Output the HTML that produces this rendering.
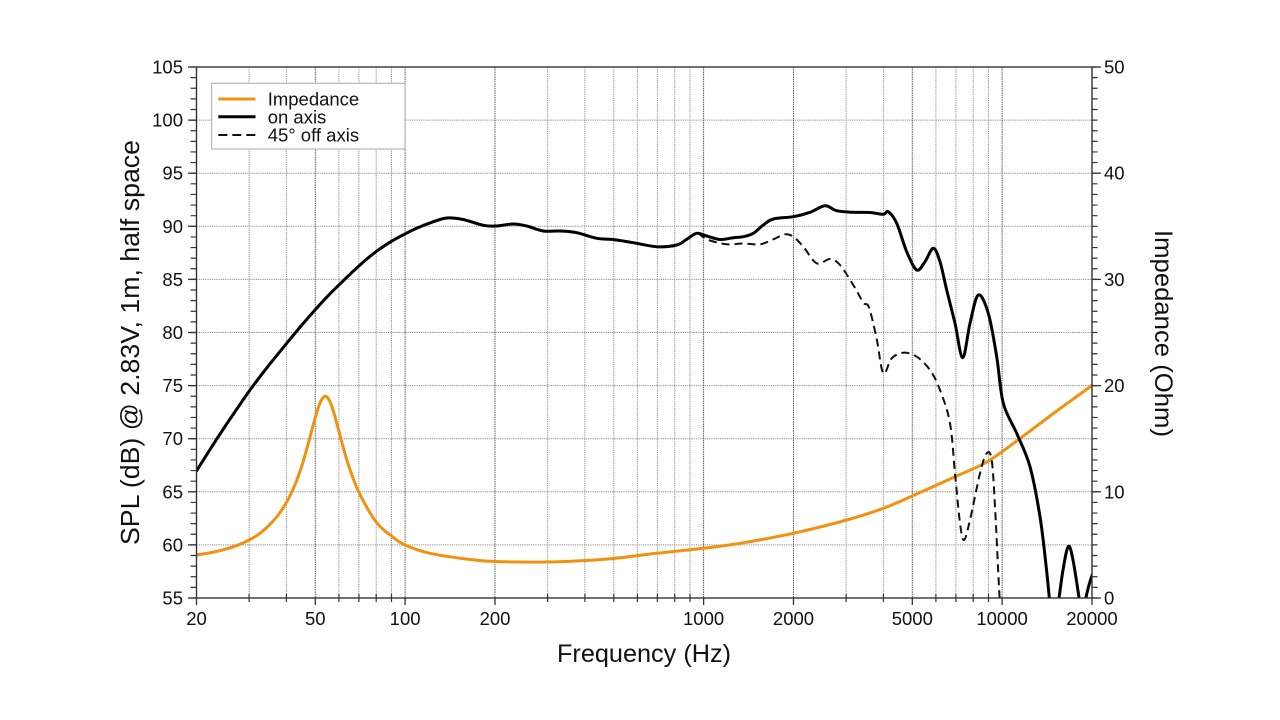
<!DOCTYPE html>
<html>
<head>
<meta charset="utf-8">
<style>
  html, body { margin: 0; padding: 0; background: #ffffff; }
  svg { display: block; }
  text { font-family: "Liberation Sans", Arial, Helvetica, sans-serif; fill: #111; }
</style>
</head>
<body>
<svg width="1280" height="720" viewBox="0 0 1280 720" xmlns="http://www.w3.org/2000/svg">
  <rect x="0" y="0" width="1280" height="720" fill="#ffffff"/>
  <defs>
    <clipPath id="plot">
      <rect x="196.5" y="67" width="895.5" height="531"/>
    </clipPath>
  </defs>

  <!-- horizontal grid -->
  <g stroke="#8c8c8c" stroke-width="1" stroke-dasharray="1.2 1">
    <line x1="196.5" y1="120.1" x2="1092" y2="120.1"/>
    <line x1="196.5" y1="173.2" x2="1092" y2="173.2"/>
    <line x1="196.5" y1="226.3" x2="1092" y2="226.3"/>
    <line x1="196.5" y1="279.4" x2="1092" y2="279.4"/>
    <line x1="196.5" y1="332.5" x2="1092" y2="332.5"/>
    <line x1="196.5" y1="385.6" x2="1092" y2="385.6"/>
    <line x1="196.5" y1="438.7" x2="1092" y2="438.7"/>
    <line x1="196.5" y1="491.8" x2="1092" y2="491.8"/>
    <line x1="196.5" y1="544.9" x2="1092" y2="544.9"/>
  </g>
  <!-- vertical minor grid -->
  <g stroke="#8c8c8c" stroke-width="1" stroke-dasharray="1.2 1">
    <line x1="249.1" y1="67" x2="249.1" y2="598"/>
    <line x1="286.4" y1="67" x2="286.4" y2="598"/>
    <line x1="338.9" y1="67" x2="338.9" y2="598"/>
    <line x1="358.9" y1="67" x2="358.9" y2="598"/>
    <line x1="376.2" y1="67" x2="376.2" y2="598"/>
    <line x1="391.5" y1="67" x2="391.5" y2="598"/>
    <line x1="547.6" y1="67" x2="547.6" y2="598"/>
    <line x1="584.9" y1="67" x2="584.9" y2="598"/>
    <line x1="613.8" y1="67" x2="613.8" y2="598"/>
    <line x1="637.4" y1="67" x2="637.4" y2="598"/>
    <line x1="657.4" y1="67" x2="657.4" y2="598"/>
    <line x1="674.7" y1="67" x2="674.7" y2="598"/>
    <line x1="690" y1="67" x2="690" y2="598"/>
    <line x1="846.1" y1="67" x2="846.1" y2="598"/>
    <line x1="883.4" y1="67" x2="883.4" y2="598"/>
    <line x1="935.9" y1="67" x2="935.9" y2="598"/>
    <line x1="955.9" y1="67" x2="955.9" y2="598"/>
    <line x1="973.2" y1="67" x2="973.2" y2="598"/>
    <line x1="988.5" y1="67" x2="988.5" y2="598"/>
  </g>
  <!-- vertical labelled grid (darker) -->
  <g stroke="#5e5e5e" stroke-width="1" stroke-dasharray="1.5 0.8">
    <line x1="315.3" y1="67" x2="315.3" y2="598"/>
    <line x1="405.1" y1="67" x2="405.1" y2="598"/>
    <line x1="495" y1="67" x2="495" y2="598"/>
    <line x1="703.6" y1="67" x2="703.6" y2="598"/>
    <line x1="793.5" y1="67" x2="793.5" y2="598"/>
    <line x1="912.3" y1="67" x2="912.3" y2="598"/>
    <line x1="1002.1" y1="67" x2="1002.1" y2="598"/>
  </g>

  <!-- curves -->
  <g clip-path="url(#plot)" fill="none" stroke-linejoin="round" stroke-linecap="round">
    <polyline class="s" stroke="#F0920F" stroke-width="3" points="196.5,555 211.8,552.5 225.4,549.2 237.8,545.2 249.1,540 259.4,533.8 269,525.3 278,515.4 286.4,502.4 294.2,486.6 301.6,466.6 308.6,442.3 315.3,417.4 320.4,402.1 325.3,396.3 330,401.6 334.5,414.9 338.9,431.2 344.2,450.9 349.3,467.6 358.9,492.3 376.2,522 391.5,536 405.1,545 430,553.3 470,559.5 495,561.5 546.7,562 585,560.5 613.3,558.5 656.7,553.3 703.3,548.3 740,543.3 793.3,533.3 846.7,520 883.3,508.3 913.3,495.5 956.7,476 986.7,462 1018,440 1056.7,411 1093,384.8"/>
    <polyline class="s" stroke="#111" stroke-width="2" stroke-linecap="butt" stroke-dasharray="8 5" points="686.7,239.3 696.7,233.3 703,237 710,240.5 726.7,244.3 743.3,243.5 760,244.3 773.3,239.3 785,234.3 793.3,236.7 803.3,246.7 816.7,263.3 830,259 840,265 853.3,285 863.3,302.5 869,307.5 876.7,339 883.3,373.3 891.7,358.3 903.3,352.7 916.7,356.7 930,370 940,390 950,423.3 955,473.3 960,523.3 964,540 970,520 980,473.3 986.7,453.3 991.7,460 995,506.7 998.3,573.3 1000,605"/>
    <polyline class="s" stroke="#000" stroke-width="3" points="196.5,471 210,449.5 223,429.5 236.5,409.5 250,390 268,366.3 286.7,343.3 301,326 315,310 329,294.8 343,281 352,272.4 360,265 368,258 376,251.7 390,242.2 403,235 416,228.5 430,222.9 446.7,218 463,219.5 483.3,225.3 496.7,226 513.3,224 526.7,226 543.3,231 560,231 576.7,232.7 596.7,238.3 613.3,239.5 633.3,242.7 656.7,246.7 676.7,245 686.7,239.3 696.7,233.3 706.7,236 720,239.5 733.3,237.7 743.3,236.7 753.3,233.3 763.3,225 773.3,219 793.3,216.7 810,212.3 825,205.7 836.7,210.7 853.3,212.3 870,212.5 883.3,214.3 888.3,211.7 896.7,223.3 906.7,251.7 916.7,270 925,261.7 933.3,248.3 940,261.7 946.7,290 955,323.3 962.7,357.7 970,323.3 978.3,295 988.3,313.3 996.7,356.7 1003.3,403.3 1016.7,433.3 1030,466.7 1040,516.7 1046,565 1050,605"/>
    <polyline class="s" stroke="#000" stroke-width="3" points="1058,606 1063,570 1068.3,546.5 1073,560 1080,604"/>
    <polyline class="s" stroke="#000" stroke-width="3" points="1084,606 1089,585 1094,570"/>
  </g>

  <!-- frame -->
  <rect x="196.5" y="67" width="895.5" height="531" fill="none" stroke="#333" stroke-width="1.4"/>

  <!-- left minor ticks (every 1 dB) -->
  <line x1="193.3" y1="598.6" x2="193.3" y2="66" stroke="#333" stroke-width="5.5" stroke-dasharray="1.2 9.42"/>
  <!-- right minor ticks (every 1 ohm) -->
  <line x1="1094.8" y1="598.6" x2="1094.8" y2="66" stroke="#333" stroke-width="5.5" stroke-dasharray="1.2 9.42"/>

  <!-- major ticks -->
  <g stroke="#333" stroke-width="1.3">
    <line x1="188" y1="67" x2="196.5" y2="67"/>
    <line x1="188" y1="120.1" x2="196.5" y2="120.1"/>
    <line x1="188" y1="173.2" x2="196.5" y2="173.2"/>
    <line x1="188" y1="226.3" x2="196.5" y2="226.3"/>
    <line x1="188" y1="279.4" x2="196.5" y2="279.4"/>
    <line x1="188" y1="332.5" x2="196.5" y2="332.5"/>
    <line x1="188" y1="385.6" x2="196.5" y2="385.6"/>
    <line x1="188" y1="438.7" x2="196.5" y2="438.7"/>
    <line x1="188" y1="491.8" x2="196.5" y2="491.8"/>
    <line x1="188" y1="544.9" x2="196.5" y2="544.9"/>
    <line x1="188" y1="598" x2="196.5" y2="598"/>

    <line x1="1092" y1="67" x2="1101" y2="67"/>
    <line x1="1092" y1="173.2" x2="1101" y2="173.2"/>
    <line x1="1092" y1="279.4" x2="1101" y2="279.4"/>
    <line x1="1092" y1="385.6" x2="1101" y2="385.6"/>
    <line x1="1092" y1="491.8" x2="1101" y2="491.8"/>
    <line x1="1092" y1="598" x2="1101" y2="598"/>

    <!-- bottom labelled ticks -->
    <line x1="196.5" y1="598" x2="196.5" y2="605"/>
    <line x1="315.3" y1="598" x2="315.3" y2="605"/>
    <line x1="405.1" y1="598" x2="405.1" y2="605"/>
    <line x1="495" y1="598" x2="495" y2="605"/>
    <line x1="703.6" y1="598" x2="703.6" y2="605"/>
    <line x1="793.5" y1="598" x2="793.5" y2="605"/>
    <line x1="912.3" y1="598" x2="912.3" y2="605"/>
    <line x1="1002.1" y1="598" x2="1002.1" y2="605"/>
    <line x1="1092" y1="598" x2="1092" y2="605"/>
  </g>
  <!-- bottom minor ticks -->
  <g stroke="#333" stroke-width="1.2">
    <line x1="249.1" y1="594" x2="249.1" y2="602"/>
    <line x1="286.4" y1="594" x2="286.4" y2="602"/>
    <line x1="338.9" y1="594" x2="338.9" y2="602"/>
    <line x1="358.9" y1="594" x2="358.9" y2="602"/>
    <line x1="376.2" y1="594" x2="376.2" y2="602"/>
    <line x1="391.5" y1="594" x2="391.5" y2="602"/>
    <line x1="547.6" y1="594" x2="547.6" y2="602"/>
    <line x1="584.9" y1="594" x2="584.9" y2="602"/>
    <line x1="613.8" y1="594" x2="613.8" y2="602"/>
    <line x1="637.4" y1="594" x2="637.4" y2="602"/>
    <line x1="657.4" y1="594" x2="657.4" y2="602"/>
    <line x1="674.7" y1="594" x2="674.7" y2="602"/>
    <line x1="690" y1="594" x2="690" y2="602"/>
    <line x1="846.1" y1="594" x2="846.1" y2="602"/>
    <line x1="883.4" y1="594" x2="883.4" y2="602"/>
    <line x1="935.9" y1="594" x2="935.9" y2="602"/>
    <line x1="955.9" y1="594" x2="955.9" y2="602"/>
    <line x1="973.2" y1="594" x2="973.2" y2="602"/>
    <line x1="988.5" y1="594" x2="988.5" y2="602"/>
  </g>

  <!-- left tick labels -->
  <g font-size="18.5" text-anchor="end">
    <text x="183" y="73.5">105</text>
    <text x="183" y="126.6">100</text>
    <text x="183" y="179.7">95</text>
    <text x="183" y="232.8">90</text>
    <text x="183" y="285.9">85</text>
    <text x="183" y="339">80</text>
    <text x="183" y="392.1">75</text>
    <text x="183" y="445.2">70</text>
    <text x="183" y="498.3">65</text>
    <text x="183" y="551.4">60</text>
    <text x="183" y="604.5">55</text>
  </g>
  <!-- right tick labels -->
  <g font-size="18.5" text-anchor="start">
    <text x="1104" y="73.5">50</text>
    <text x="1104" y="179.7">40</text>
    <text x="1104" y="285.9">30</text>
    <text x="1104" y="392.1">20</text>
    <text x="1104" y="498.3">10</text>
    <text x="1104" y="604.5">0</text>
  </g>
  <!-- bottom tick labels -->
  <g font-size="18.5" text-anchor="middle">
    <text x="196.5" y="625">20</text>
    <text x="315.3" y="625">50</text>
    <text x="405.1" y="625">100</text>
    <text x="495" y="625">200</text>
    <text x="703.6" y="625">1000</text>
    <text x="793.5" y="625">2000</text>
    <text x="912.3" y="625">5000</text>
    <text x="1002.1" y="625">10000</text>
    <text x="1092" y="625">20000</text>
  </g>

  <!-- axis titles -->
  <text x="644" y="662" font-size="25" text-anchor="middle" textLength="174" lengthAdjust="spacingAndGlyphs">Frequency (Hz)</text>
  <text transform="translate(139,342.5) rotate(-90)" font-size="25.5" text-anchor="middle" textLength="405" lengthAdjust="spacingAndGlyphs">SPL (dB) @ 2.83V, 1m, half space</text>
  <text transform="translate(1155,333.5) rotate(90)" font-size="25" text-anchor="middle" textLength="207" lengthAdjust="spacingAndGlyphs">Impedance (Ohm)</text>

  <!-- legend -->
  <rect x="211.7" y="83.3" width="193.3" height="65.7" fill="#ffffff" stroke="#a8a8a8" stroke-width="1"/>
  <line x1="218.3" y1="99" x2="255.5" y2="99" stroke="#F0920F" stroke-width="3"/>
  <line x1="218.3" y1="116.7" x2="255.5" y2="116.7" stroke="#000" stroke-width="3"/>
  <line x1="218.3" y1="135" x2="255.5" y2="135" stroke="#111" stroke-width="2" stroke-dasharray="9 5"/>
  <g font-size="18.5">
    <text x="267.7" y="105.5">Impedance</text>
    <text x="267.7" y="123.5">on axis</text>
    <text x="267.7" y="141.5">45° off axis</text>
  </g>

  <script>
  (function(){
    var NS = 'http://www.w3.org/2000/svg';
    var lines = document.querySelectorAll('polyline.s');
    for (var k = 0; k < lines.length; k++) {
      var pl = lines[k];
      var pts = pl.getAttribute('points').trim().split(/\s+/).map(function(p){ return p.split(',').map(Number); });
      var d = 'M' + pts[0][0] + ',' + pts[0][1];
      for (var i = 0; i < pts.length - 1; i++) {
        var p0 = pts[i-1] || pts[i], p1 = pts[i], p2 = pts[i+1], p3 = pts[i+2] || p2;
        var c1x = p1[0] + (p2[0]-p0[0])/6, c1y = p1[1] + (p2[1]-p0[1])/6;
        var c2x = p2[0] - (p3[0]-p1[0])/6, c2y = p2[1] - (p3[1]-p1[1])/6;
        d += ' C' + c1x.toFixed(2) + ',' + c1y.toFixed(2) + ' ' + c2x.toFixed(2) + ',' + c2y.toFixed(2) + ' ' + p2[0] + ',' + p2[1];
      }
      var path = document.createElementNS(NS, 'path');
      for (var a = 0; a < pl.attributes.length; a++) {
        var at = pl.attributes[a];
        if (at.name !== 'points' && at.name !== 'class') path.setAttribute(at.name, at.value);
      }
      path.setAttribute('d', d);
      pl.parentNode.replaceChild(path, pl);
    }
  })();
  </script>
</svg>
</body>
</html>
